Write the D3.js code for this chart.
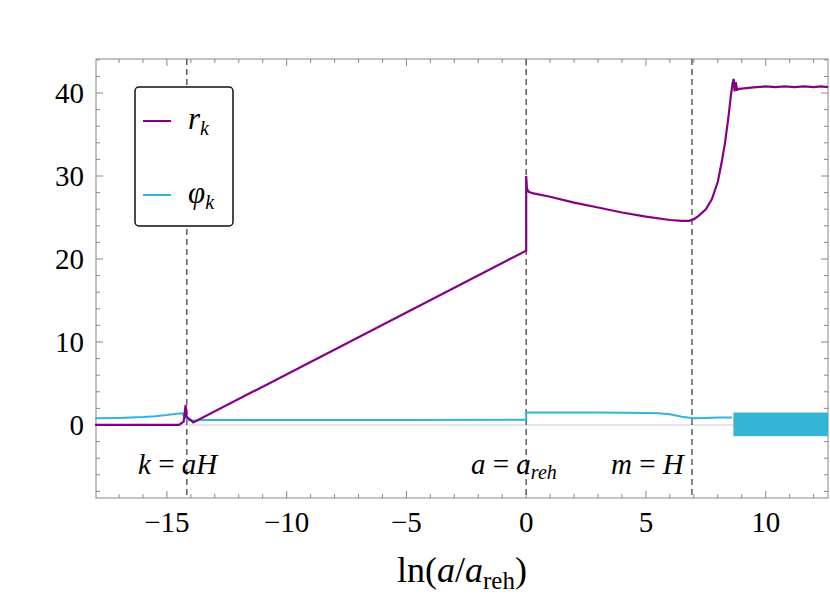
<!DOCTYPE html>
<html><head><meta charset="utf-8">
<script src="https://cdn.jsdelivr.net/npm/d3@7"></script>
<style>body{margin:0;background:#fff}text{font-family:"Liberation Serif","DejaVu Serif",serif}</style>
</head><body>
<script>
// r_k curve (x = ln(a/a_reh), y)
const rX = [-18, -14.5, -14.3, -14.22, -14.18, -14.1, -14.0, -13.9, 0, 0, 0.03, 0.1, 0.3, 1, 2, 3, 4, 5, 6, 6.5, 6.8, 7.0, 7.2, 7.5, 7.75, 8.0, 8.17, 8.3, 8.46, 8.55, 8.62, 8.66, 8.7, 8.75, 8.8, 8.9, 9.2, 9.6, 10, 10.4, 10.8, 11.2, 11.6, 12, 12.3, 12.6];
const rY = [0, 0, 0.4, 2.4, 1.0, 0.8, 0.6, 0.3, 21, 30, 28.5, 28.1, 27.9, 27.5, 26.8, 26.2, 25.6, 25.1, 24.7, 24.6, 24.6, 24.8, 25.2, 26.0, 27.2, 29.3, 31.8, 34.0, 37.5, 39.8, 41.2, 41.7, 40.2, 41.3, 40.4, 40.5, 40.6, 40.7, 40.8, 40.7, 40.8, 40.7, 40.8, 40.7, 40.8, 40.7];
// phi_k curve
const pX = [-18, -17, -16, -15.5, -15, -14.6, -14.35, -14.25, -14.1, -14.0, -13.5, -10, -5, 0, 0, 1, 3, 5, 5.5, 6, 6.5, 7, 7.5, 8, 8.6];
const pY = [0.8, 0.85, 0.95, 1.05, 1.2, 1.35, 1.4, 0.9, 0.6, 0.5, 0.6, 0.6, 0.6, 0.62, 1.5, 1.5, 1.5, 1.45, 1.4, 1.3, 1.0, 0.8, 0.85, 0.9, 0.9];
// oscillating phi_k band: start, end, low, high
const band = [8.65, 12.6, -1.35, 1.5];
const vLines = [-14.17, 0, 6.92];
const xTicks = [-15, -10, -5, 0, 5, 10];
const yTicks = [0, 10, 20, 30, 40];
const notes = [["k", " = ", "aH", null, 138], ["a", " = ", "a", "reh", 471], ["m", " = ", "H", null, 611]];

const W = 830, H = 597;
const L = 96, R = 828, T = 59, B = 498;
const x = d3.scaleLinear().domain([-17.96, 12.6]).range([L, R]);
const y = d3.scaleLinear().domain([-8.8, 44.1]).range([B, T]);

const svg = d3.select("body").append("svg").attr("width", W).attr("height", H);
const gray = "#888";

// zero line
svg.append("line").attr("x1", L).attr("x2", R).attr("y1", y(0)).attr("y2", y(0))
  .attr("stroke", "#ccc").attr("stroke-width", 1);

// frame + ticks
svg.append("rect").attr("x", L).attr("y", T).attr("width", R - L).attr("height", B - T)
  .attr("fill", "none").attr("stroke", gray).attr("stroke-width", 1);
d3.range(-17, 13, 1).forEach(v => {
  const len = v % 5 === 0 ? 7 : 4;
  svg.append("line").attr("x1", x(v)).attr("x2", x(v)).attr("y1", B).attr("y2", B - len).attr("stroke", gray);
  svg.append("line").attr("x1", x(v)).attr("x2", x(v)).attr("y1", T).attr("y2", T + len).attr("stroke", gray);
});
d3.range(-8, 45, 2).forEach(v => {
  const len = v % 10 === 0 ? 7 : 4;
  svg.append("line").attr("y1", y(v)).attr("y2", y(v)).attr("x1", L).attr("x2", L + len).attr("stroke", gray);
  svg.append("line").attr("y1", y(v)).attr("y2", y(v)).attr("x1", R).attr("x2", R - len).attr("stroke", gray);
});
xTicks.forEach(v => svg.append("text").attr("x", x(v)).attr("y", B + 34).attr("text-anchor", "middle")
  .attr("font-size", 29).text(v < 0 ? "\u2212" + (-v) : v));
yTicks.forEach(v => svg.append("text").attr("x", L - 12).attr("y", y(v) + 10).attr("text-anchor", "end")
  .attr("font-size", 29).text(v));

// dashed lines
vLines.forEach(v => svg.append("line").attr("x1", x(v)).attr("x2", x(v)).attr("y1", T).attr("y2", B)
  .attr("stroke", "#666").attr("stroke-width", 1.6).attr("stroke-dasharray", "6,4"));

// phi band
svg.append("rect").attr("x", x(band[0])).attr("y", y(band[3]))
  .attr("width", x(band[1]) - x(band[0])).attr("height", y(band[2]) - y(band[3])).attr("fill", "#33b5d5");

const lineS = d3.line().x(d => x(d[0])).y(d => y(d[1]));
svg.append("path").datum(pX.map((v, i) => [v, pY[i]])).attr("d", lineS)
  .attr("fill", "none").attr("stroke", "#33b5d5").attr("stroke-width", 2);
svg.append("path").datum(rX.map((v, i) => [v, rY[i]])).attr("d", lineS)
  .attr("fill", "none").attr("stroke", "#850085").attr("stroke-width", 2.2);

// annotations
notes.forEach(n => {
  const t = svg.append("text").attr("x", n[4]).attr("y", 474).attr("font-size", 29);
  t.append("tspan").attr("font-style", "italic").text(n[0]);
  t.append("tspan").text(n[1]);
  t.append("tspan").attr("font-style", "italic").text(n[2]);
  if (n[3]) t.append("tspan").attr("font-style", "italic").attr("font-size", 20).attr("dy", 5).text(n[3]);
});

// legend
svg.append("rect").attr("x", 135).attr("y", 87).attr("width", 98).attr("height", 139).attr("rx", 4)
  .attr("fill", "#fff").attr("stroke", "#111").attr("stroke-width", 1.5);
[["r", "#850085", 121], ["\u03c6", "#33b5d5", 195]].forEach(d => {
  svg.append("line").attr("x1", 143).attr("x2", 171).attr("y1", d[2]).attr("y2", d[2]).attr("stroke", d[1]).attr("stroke-width", 2);
  const t = svg.append("text").attr("x", 188).attr("y", d[2] + 8).attr("font-size", 31).attr("font-style", "italic");
  t.append("tspan").text(d[0]);
  t.append("tspan").attr("font-size", 20).attr("dy", 6).text("k");
});

// x label
const xl = svg.append("text").attr("x", 462).attr("y", 582).attr("text-anchor", "middle").attr("font-size", 36);
xl.append("tspan").text("ln(");
xl.append("tspan").attr("font-style", "italic").text("a");
xl.append("tspan").text("/");
xl.append("tspan").attr("font-style", "italic").text("a");
xl.append("tspan").attr("font-size", 25).attr("dy", 7).text("reh");
xl.append("tspan").attr("dy", -7).text(")");
</script>
</body></html>
